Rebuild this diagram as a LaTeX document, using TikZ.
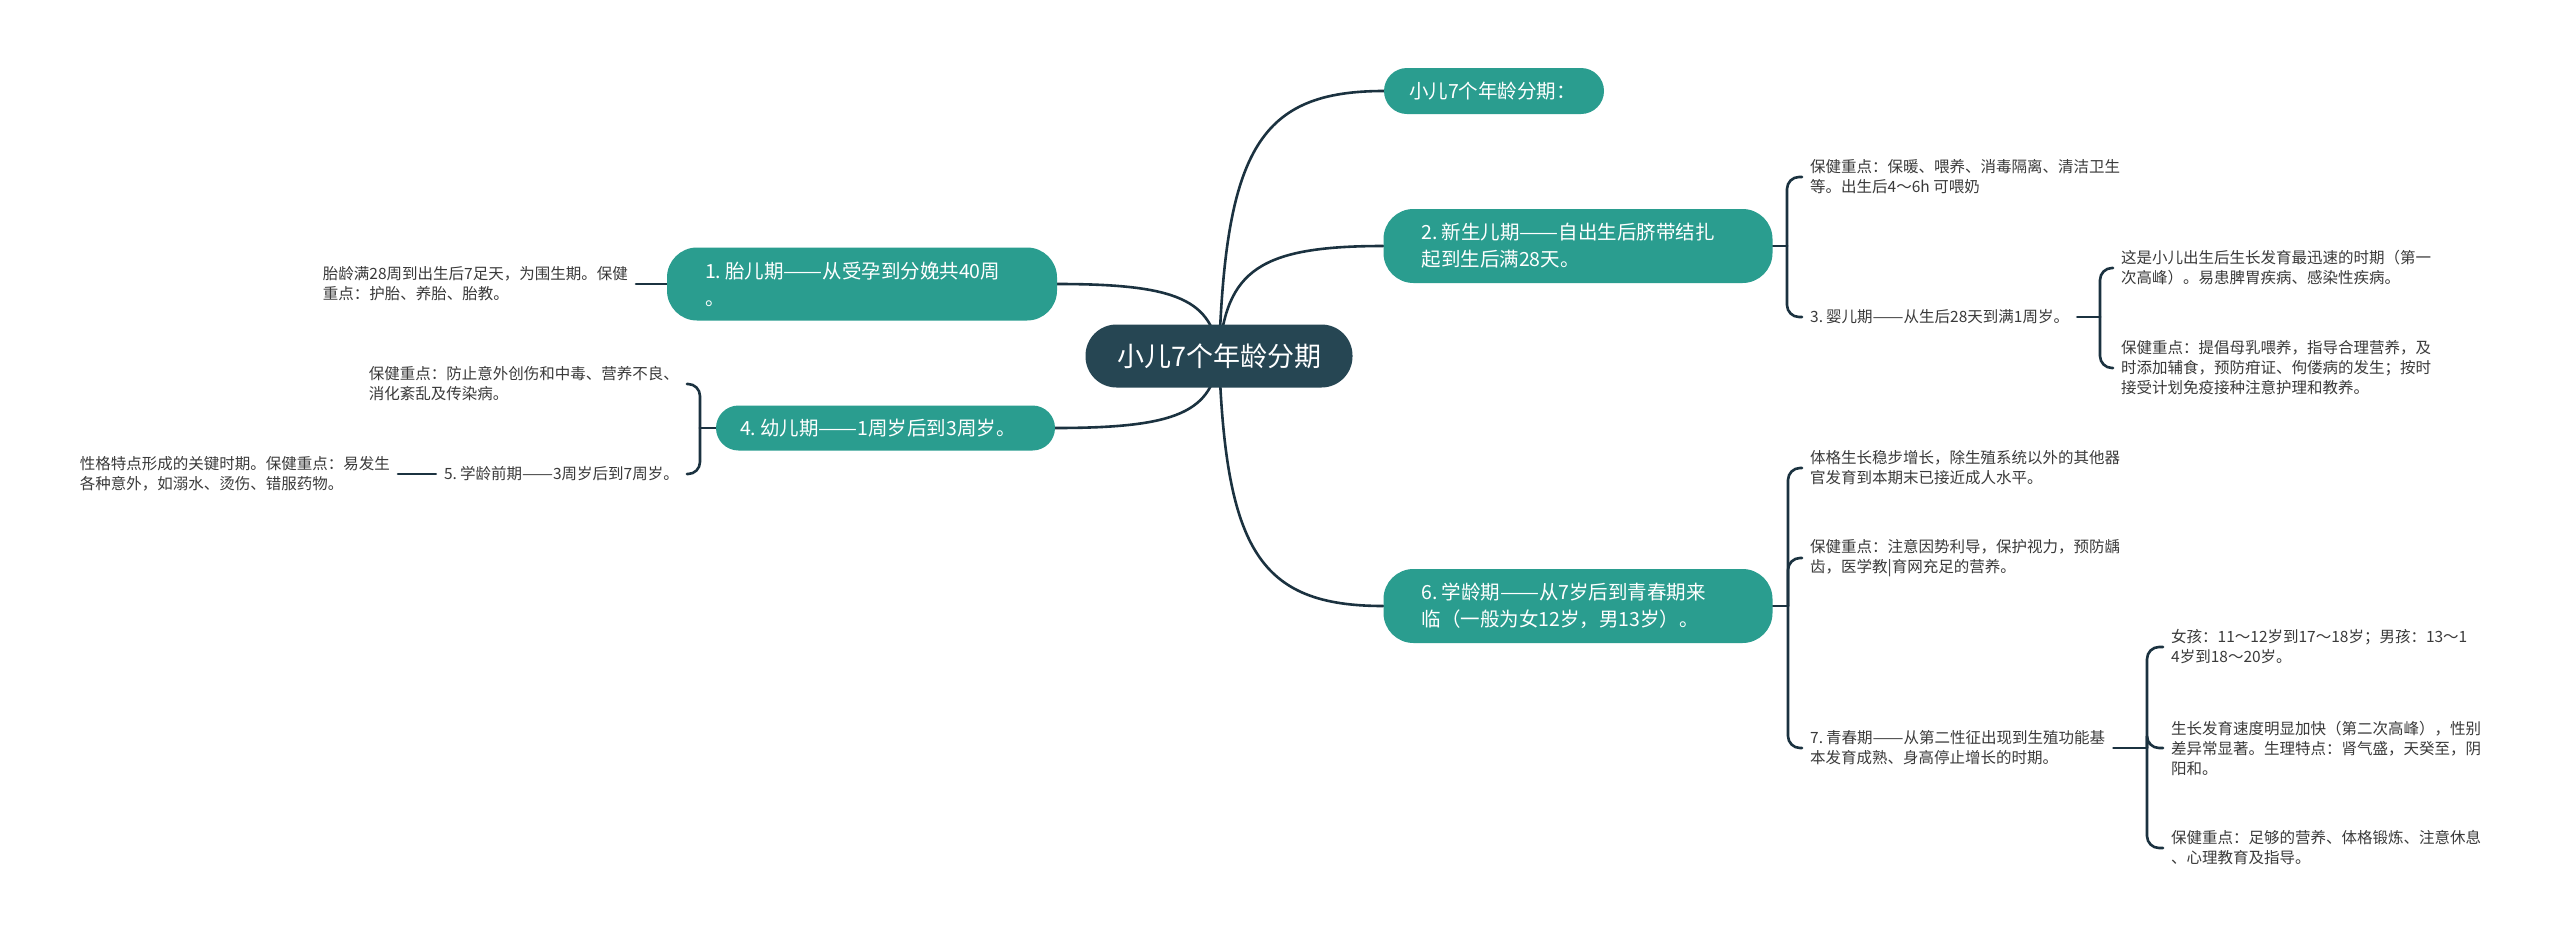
\documentclass[tikz,border=0pt]{standalone}
\usepackage{graphicx}
\usepackage{fontspec}
\setmainfont{Noto Sans CJK SC}
\definecolor{topicfill}{HTML}{2A9D8F}
\definecolor{rootfill}{HTML}{264653}
\definecolor{linec}{HTML}{1B3240}
\definecolor{txtc}{HTML}{3A3A3A}
\pgfdeclarelayer{background}
\pgfsetlayers{background,main}
\newcommand{\nsp}{\kern0.2em}
\newcommand{\ldash}{\resizebox{2em}{\height}{——}}
\begin{document}
\begin{tikzpicture}[x=1pt,y=-1pt,
  conn/.style={draw=linec, line width=2.6pt, line cap=round},
  brk/.style={conn, rounded corners=12pt},
  topic/.style={fill=topicfill, text=white, font=\fontsize{19.5}{27}\selectfont, align=left, inner ysep=0pt},
  leaf/.style={text=txtc, font=\fontsize{15.5}{20}\selectfont, align=left, inner xsep=8pt, inner ysep=3pt},
  rootbox/.style={fill=rootfill, text=white, font=\fontsize{27}{30}\selectfont, minimum width=267pt, minimum height=63pt, rounded corners=31pt, inner sep=0pt}
]
\useasboundingbox (0,0) rectangle (2560,943);

% central topic
\node[rootbox] (root) at (1219,356) {小儿7个年龄分期};

% main topics
\node[topic, text width=170pt, inner xsep=25pt, minimum height=46pt, rounded corners=23pt] (n0) at (1494,91) {小儿7个年龄分期：};
\node[topic, text width=313pt, inner xsep=38pt, minimum height=74pt, rounded corners=30pt] (n2) at (1578,246) {2.\nsp 新生儿期\ldash 自出生后脐带结扎\\起到生后满28天。};
\node[topic, text width=313pt, inner xsep=38pt, minimum height=74pt, rounded corners=30pt] (n6) at (1578,606) {6.\nsp 学龄期\ldash 从7岁后到青春期来\\临（一般为女12岁，男13岁）。};
\node[topic, text width=314pt, inner xsep=38pt, minimum height=73pt, rounded corners=30pt] (n1) at (862,284) {1.\nsp 胎儿期\ldash 从受孕到分娩共40周\\。};
\node[topic, text width=291pt, inner xsep=24pt, minimum height=45pt, rounded corners=22.5pt] (n4) at (885.5,428) {4.\nsp 幼儿期\ldash 1周岁后到3周岁。};

% right leaves
\node[leaf, anchor=west] (c2a) at (1802,177) {保健重点：保暖、喂养、消毒隔离、清洁卫生\\等。出生后4～6h 可喂奶};
\node[leaf, anchor=west] (n3) at (1802,317) {3.\nsp 婴儿期\ldash 从生后28天到满1周岁。};
\node[leaf, anchor=west] (c3a) at (2113,268) {这是小儿出生后生长发育最迅速的时期（第一\\次高峰）。易患脾胃疾病、感染性疾病。};
\node[leaf, anchor=west] (c3b) at (2113,368) {保健重点：提倡母乳喂养，指导合理营养，及\\时添加辅食，预防疳证、佝偻病的发生；按时\\接受计划免疫接种注意护理和教养。};
\node[leaf, anchor=west] (c6a) at (1802,468) {体格生长稳步增长，除生殖系统以外的其他器\\官发育到本期末已接近成人水平。};
\node[leaf, anchor=west] (c6b) at (1802,558) {保健重点：注意因势利导，保护视力，预防龋\\齿，医学教|育网充足的营养。};
\node[leaf, anchor=west] (n7) at (1802,748) {7.\nsp 青春期\ldash 从第二性征出现到生殖功能基\\本发育成熟、身高停止增长的时期。};
\node[leaf, anchor=west] (c7a) at (2163,647) {女孩：11～12岁到17～18岁；男孩：13～1\\4岁到18～20岁。};
\node[leaf, anchor=west] (c7b) at (2163,748) {生长发育速度明显加快（第二次高峰），性别\\差异常显著。生理特点：肾气盛，天癸至，阴\\阳和。};
\node[leaf, anchor=west] (c7c) at (2163,848) {保健重点：足够的营养、体格锻炼、注意休息\\、心理教育及指导。};

% left leaves
\node[leaf, anchor=east] (c1) at (636,284) {胎龄满28周到出生后7足天，为围生期。保健\\重点：护胎、养胎、胎教。};
\node[leaf, anchor=east] (c4a) at (687,384) {保健重点：防止意外创伤和中毒、营养不良、\\消化紊乱及传染病。};
\node[leaf, anchor=east] (n5) at (687,474) {5.\nsp 学龄前期\ldash 3周岁后到7周岁。};
\node[leaf, anchor=east] (c5) at (398,474) {性格特点形成的关键时期。保健重点：易发生\\各种意外，如溺水、烫伤、错服药物。};

% junctions
\coordinate (j2) at (1787,246);
\coordinate (j3) at (2100,317);
\coordinate (j6) at (1788,606);
\coordinate (j7) at (2147,748);
\coordinate (j4) at (700,428);

\begin{pgfonlayer}{background}
\fill[white] (0,0) rectangle (2560,943);
% root connectors
\draw[conn] (root.center) .. controls (1225.6,149) and (1260,91) .. (n0.west);
\draw[conn] (root.center) .. controls (1225.6,270) and (1260,246) .. (n2.west);
\draw[conn] (root.center) .. controls (1225.6,551) and (1260,606) .. (n6.west);
\draw[conn] (root.center) .. controls (1212.5,300) and (1178,284) .. (n1.east);
\draw[conn] (root.center) .. controls (1212.5,412) and (1178,428) .. (n4.east);
% brackets
\draw[conn] (n2.east) -- (j2);
\draw[brk] (j2) |- (c2a.west);
\draw[brk] (j2) |- (n3.west);
\draw[conn] (n3.east) -- (j3);
\draw[brk] (j3) |- (c3a.west);
\draw[brk] (j3) |- (c3b.west);
\draw[conn] (n6.east) -- (j6);
\draw[brk] (j6) |- (c6a.west);
\draw[brk] (j6) |- (c6b.west);
\draw[brk] (j6) |- (n7.west);
\draw[conn] (n7.east) -- (j7);
\draw[brk] (j7) |- (c7a.west);
\draw[brk] (j7) |- (c7b.west);
\draw[brk] (j7) |- (c7c.west);
\draw[conn] (n1.west) -- (c1.east);
\draw[conn] (n4.west) -- (j4);
\draw[brk] (j4) |- (c4a.east);
\draw[brk] (j4) |- (n5.east);
\draw[conn] (n5.west) -- (c5.east);
\end{pgfonlayer}
\end{tikzpicture}
\end{document}
